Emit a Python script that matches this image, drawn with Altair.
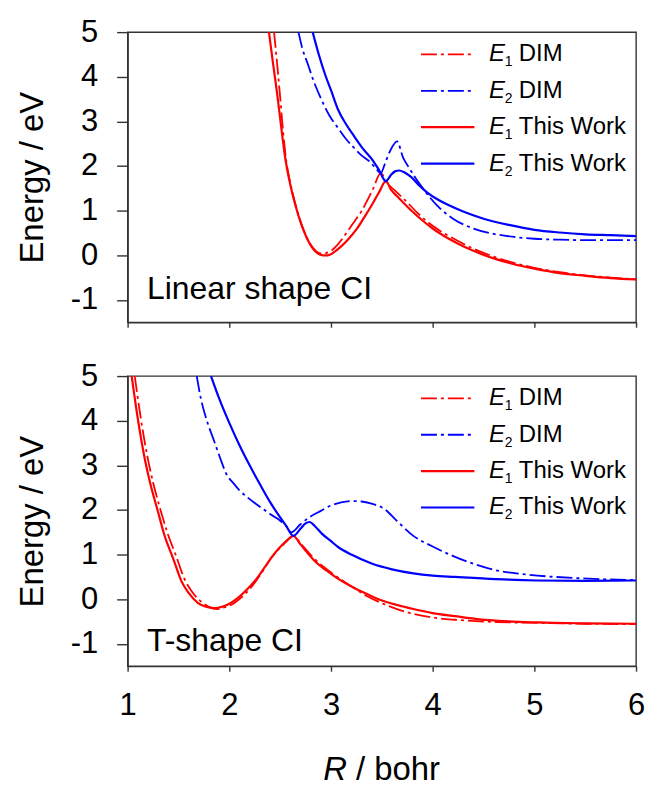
import altair as alt
import pandas as pd

# ---- Linear shape CI (R in bohr, E in eV) ----
lin_e1_dim_r = [2.44, 2.47, 2.50, 2.53, 2.56, 2.60, 2.65, 2.70, 2.75, 2.80, 2.85, 2.90, 2.95, 3.00,
                3.07, 3.13, 3.20, 3.30, 3.41, 3.49, 3.55, 3.62, 3.74, 3.85, 4.00, 4.20, 4.40, 4.60,
                4.80, 5.00, 5.25, 5.50, 5.75, 6.00]
lin_e1_dim_e = [5.00, 4.30, 3.55, 2.75, 2.12, 1.62, 1.15, 0.76, 0.46, 0.24, 0.10, 0.04, 0.05, 0.10,
                0.25, 0.43, 0.66, 0.99, 1.47, 1.84, 1.62, 1.47, 1.21, 0.95, 0.66, 0.38, 0.15, -0.03,
                -0.17, -0.28, -0.38, -0.45, -0.50, -0.54]

lin_e2_dim_r = [2.68, 2.72, 2.77, 2.83, 2.90, 2.98, 3.07, 3.15, 3.23, 3.30, 3.38, 3.44, 3.49, 3.53,
                3.58, 3.65, 3.71, 3.76, 3.82, 3.90, 4.05, 4.20, 4.40, 4.60, 4.80, 5.00, 5.25, 5.50,
                5.75, 6.00]
lin_e2_dim_e = [5.00, 4.62, 4.30, 3.90, 3.52, 3.15, 2.85, 2.60, 2.40, 2.24, 2.10, 1.95, 1.84, 2.05,
                2.33, 2.55, 2.18, 1.99, 1.77, 1.51, 1.10, 0.82, 0.60, 0.48, 0.41, 0.37, 0.35, 0.34,
                0.34, 0.34]

lin_e1_tw_r = [2.39, 2.43, 2.47, 2.51, 2.55, 2.60, 2.65, 2.71, 2.76, 2.81, 2.86, 2.92, 2.97, 3.03,
               3.10, 3.17, 3.25, 3.33, 3.40, 3.47, 3.54, 3.59, 3.65, 3.72, 3.80, 3.90, 4.00, 4.10,
               4.25, 4.40, 4.60, 4.80, 5.00, 5.25, 5.50, 5.75, 6.00]
lin_e1_tw_e = [5.00, 4.30, 3.63, 2.88, 2.18, 1.58, 1.12, 0.68, 0.40, 0.19, 0.06, 0.00, 0.00, 0.07,
               0.20, 0.36, 0.58, 0.86, 1.12, 1.40, 1.66, 1.47, 1.32, 1.16, 0.98, 0.78, 0.60, 0.45,
               0.26, 0.10, -0.07, -0.20, -0.30, -0.40, -0.46, -0.51, -0.54]

lin_e2_tw_r = [2.82, 2.88, 2.95, 3.00, 3.07, 3.15, 3.23, 3.31, 3.40, 3.47, 3.54, 3.59, 3.63, 3.67,
               3.72, 3.79, 3.87, 3.95, 4.05, 4.15, 4.30, 4.50, 4.75, 5.00, 5.25, 5.50, 5.75, 6.00]
lin_e2_tw_e = [5.00, 4.50, 4.00, 3.70, 3.26, 2.93, 2.66, 2.40, 2.16, 1.92, 1.66, 1.80, 1.88, 1.90,
               1.86, 1.75, 1.56, 1.40, 1.25, 1.13, 0.98, 0.82, 0.68, 0.57, 0.51, 0.47, 0.45, 0.43]

# ---- T-shape CI ----
t_e1_dim_r = [1.07, 1.13, 1.19, 1.25, 1.33, 1.39, 1.48, 1.56, 1.63, 1.72, 1.80, 1.88, 1.96, 2.04,
              2.12, 2.22, 2.32, 2.42, 2.52, 2.63, 2.70, 2.83, 3.00, 3.12, 3.24, 3.36, 3.48, 3.65,
              3.81, 4.00, 4.22, 4.42, 4.62, 5.03, 5.50, 6.00]
t_e1_dim_e = [5.00, 4.05, 3.25, 2.62, 1.95, 1.50, 0.95, 0.45, 0.18, -0.05, -0.17, -0.22, -0.18, -0.10,
              0.04, 0.28, 0.60, 0.95, 1.20, 1.42, 1.25, 0.92, 0.60, 0.41, 0.23, 0.06, -0.07, -0.22,
              -0.33, -0.41, -0.46, -0.49, -0.51, -0.53, -0.55, -0.56]

t_e2_dim_r = [1.68, 1.72, 1.77, 1.85, 1.92, 1.97, 2.04, 2.10, 2.18, 2.26, 2.34, 2.42, 2.50, 2.56,
              2.61, 2.70, 2.79, 2.90, 3.00, 3.10, 3.20, 3.30, 3.40, 3.52, 3.65, 3.81, 4.01, 4.22,
              4.42, 4.62, 4.82, 5.03, 5.44, 6.00]
t_e2_dim_e = [5.00, 4.50, 4.07, 3.55, 3.10, 2.81, 2.60, 2.44, 2.28, 2.14, 2.01, 1.88, 1.76, 1.64,
              1.50, 1.68, 1.84, 1.98, 2.10, 2.17, 2.20, 2.19, 2.14, 2.03, 1.75, 1.42, 1.17, 0.95,
              0.78, 0.65, 0.58, 0.53, 0.47, 0.43]

t_e1_tw_r = [1.04, 1.10, 1.16, 1.22, 1.30, 1.36, 1.45, 1.53, 1.60, 1.69, 1.77, 1.85, 1.93, 2.01,
             2.10, 2.20, 2.26, 2.34, 2.42, 2.50, 2.57, 2.63, 2.70, 2.76, 2.83, 3.00, 3.12, 3.24,
             3.36, 3.48, 3.65, 3.81, 4.00, 4.22, 4.42, 4.62, 5.03, 5.50, 6.00]
t_e1_tw_e = [5.00, 4.05, 3.25, 2.62, 1.95, 1.45, 0.90, 0.40, 0.14, -0.08, -0.17, -0.20, -0.17, -0.09,
             0.06, 0.28, 0.43, 0.69, 0.95, 1.17, 1.32, 1.42, 1.23, 1.06, 0.88, 0.57, 0.39, 0.24,
             0.11, -0.01, -0.13, -0.22, -0.31, -0.38, -0.44, -0.48, -0.52, -0.54, -0.55]

t_e2_tw_r = [1.82, 1.90, 2.00, 2.10, 2.20, 2.30, 2.40, 2.48, 2.56, 2.63, 2.70, 2.75, 2.79, 2.84,
             2.91, 3.00, 3.07, 3.20, 3.40, 3.60, 3.81, 4.00, 4.22, 4.62, 5.03, 5.50, 6.00]
t_e2_tw_e = [5.00, 4.50, 3.95, 3.45, 3.00, 2.58, 2.18, 1.90, 1.64, 1.42, 1.58, 1.70, 1.73, 1.64,
             1.47, 1.30, 1.17, 1.00, 0.80, 0.67, 0.58, 0.53, 0.50, 0.45, 0.42, 0.41, 0.42]

# ---- styling ----
FONT = "Liberation Sans"
RED = "#FF0000"
BLUE = "#0000FF"
FRAME = "#333333"
DASHDOT = [16, 4, 3, 4]
STYLES = {
    "e1_dim": {"color": RED, "strokeDash": DASHDOT, "strokeWidth": 1.8},
    "e2_dim": {"color": BLUE, "strokeDash": DASHDOT, "strokeWidth": 1.8},
    "e1_tw": {"color": RED, "strokeWidth": 2.2},
    "e2_tw": {"color": BLUE, "strokeWidth": 2.2},
}
LEGEND = [("e1_dim", "1", "DIM"), ("e2_dim", "2", "DIM"),
          ("e1_tw", "1", "This Work"), ("e2_tw", "2", "This Work")]

PANEL_W = 510
PANEL_H = 291

x_scale = alt.Scale(domain=[1, 6], nice=False, zero=False)
y_scale = alt.Scale(domain=[-1.5, 5], nice=False, zero=False)

# plain hyphen for negative tick labels
HYPHEN = "replace(datum.label, '\u2212', '-')"

y_axis = alt.Axis(values=[-1, 0, 1, 2, 3, 4, 5], title="Energy / eV", grid=False,
                  tickSize=11, labelPadding=19, labelFontSize=31, titleFontSize=33,
                  titleFontWeight="normal", titlePadding=21, labelExpr=HYPHEN)
x_axis_top = alt.Axis(values=[1, 2, 3, 4, 5, 6], labels=False, title=None, grid=False,
                      tickSize=5)
x_axis_bottom = alt.Axis(values=[1, 2, 3, 4, 5, 6], format="d", title=None, grid=False,
                         tickSize=5, labelPadding=19, labelFontSize=31, labelFlush=False)

one_row = pd.DataFrame({"k": [0]})


def curve(r, e, key, x_axis):
    df = pd.DataFrame({"R": r, "E": e})
    return alt.Chart(df).mark_line(clip=True, interpolate="monotone", **STYLES[key]).encode(
        x=alt.X("R:Q", scale=x_scale, axis=x_axis),
        y=alt.Y("E:Q", scale=y_scale, axis=y_axis),
    )


def at(xv, yv, x_axis):
    return dict(x=alt.X(datum=xv, type="quantitative", scale=x_scale, axis=x_axis),
                y=alt.Y(datum=yv, type="quantitative", scale=y_scale, axis=y_axis))


def legend(x_axis):
    layers = []
    top, step = 4.50, 0.815
    for i, (key, sub, word) in enumerate(LEGEND):
        yv = top - i * step
        layers.append(
            alt.Chart(one_row).mark_rule(**STYLES[key]).encode(
                x2=alt.X2(datum=4.41), **at(3.885, yv, x_axis))
        )
        layers.append(alt.Chart(one_row).mark_text(
            text="E", font=FONT, fontSize=24, fontStyle="italic", align="left",
            baseline="middle", color="black").encode(**at(4.553, yv, x_axis)))
        layers.append(alt.Chart(one_row).mark_text(
            text=sub, font=FONT, fontSize=14, align="left", baseline="middle",
            dx=16, dy=8, color="black").encode(**at(4.553, yv, x_axis)))
        layers.append(alt.Chart(one_row).mark_text(
            text=word, font=FONT, fontSize=24, align="left", baseline="middle",
            dx=30, color="black").encode(**at(4.553, yv, x_axis)))
    return layers


def panel(series, label, label_y, x_axis, extra=()):
    layers = [curve(r, e, key, x_axis) for r, e, key in series]
    layers += legend(x_axis)
    layers.append(alt.Chart(one_row).mark_text(
        text=label, font=FONT, fontSize=32, align="left", baseline="alphabetic",
        color="black").encode(**at(1.19, label_y, x_axis)))
    layers += list(extra)
    return alt.layer(*layers).properties(width=PANEL_W, height=PANEL_H)


top = panel(
    [(lin_e1_dim_r, lin_e1_dim_e, "e1_dim"), (lin_e2_dim_r, lin_e2_dim_e, "e2_dim"),
     (lin_e1_tw_r, lin_e1_tw_e, "e1_tw"), (lin_e2_tw_r, lin_e2_tw_e, "e2_tw")],
    "Linear shape CI", -0.97, x_axis_top)

# x-axis title with an italic R
x_title = [
    alt.Chart(one_row).mark_text(text="R", font=FONT, fontSize=33, fontStyle="italic",
                                 align="right", baseline="alphabetic", color="black")
    .encode(x=alt.value(220), y=alt.value(405)),
    alt.Chart(one_row).mark_text(text="/ bohr", font=FONT, fontSize=33, align="left",
                                 baseline="alphabetic", dx=9, color="black")
    .encode(x=alt.value(220), y=alt.value(405)),
]

bottom = panel(
    [(t_e1_dim_r, t_e1_dim_e, "e1_dim"), (t_e2_dim_r, t_e2_dim_e, "e2_dim"),
     (t_e1_tw_r, t_e1_tw_e, "e1_tw"), (t_e2_tw_r, t_e2_tw_e, "e2_tw")],
    "T-shape CI", -1.15, x_axis_bottom, extra=x_title)

chart = alt.vconcat(top, bottom, spacing=54, bounds="flush").properties(
    padding={"left": 15, "top": 14, "right": 5, "bottom": 5}
).configure_view(
    stroke=FRAME, strokeWidth=1.4
).configure_axis(
    domainColor=FRAME, tickColor=FRAME, domainWidth=1.4, tickWidth=1.4,
    labelFont=FONT, titleFont=FONT, labelColor="black", titleColor="black"
)

chart.save("out.html", embed_options={"renderer": "svg", "actions": False})
